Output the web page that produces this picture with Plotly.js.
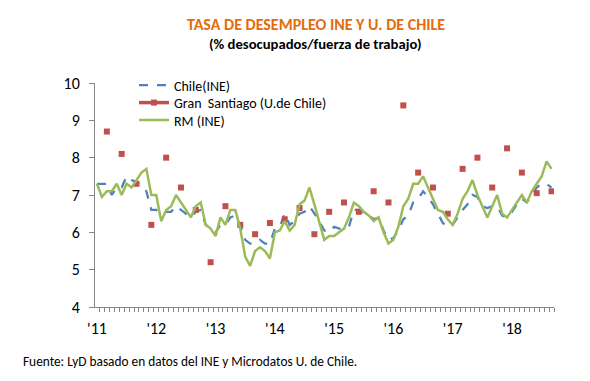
<!DOCTYPE html>
<html>
<head>
<meta charset="utf-8">
<script src="https://cdn.plot.ly/plotly-3.0.1.min.js"></script>
<style>html,body{margin:0;padding:0;background:#fff;}#chart{width:590px;height:381px;}</style>
</head>
<body>
<div id="chart"></div>
<script>
// Monthly index 0 = Jan 2011 ... 92 = Sep 2018
var yearTickIdx = [0, 12, 24, 36, 48, 60, 72, 84];
var yearTickText = ["'11", "'12", "'13", "'14", "'15", "'16", "'17", "'18"];

var chileINE = [7.3, 7.3, 7.3, 7.0, 7.2, 7.2, 7.5, 7.4, 7.35, 7.25, 7.1, 6.6,
  6.6, 6.5, 6.55, 6.55, 6.7, 6.6, 6.5, 6.4, 6.55, 6.6, 6.2, 6.1,
  6.0, 6.2, 6.2, 6.4, 6.45, 6.2, 5.8, 5.7, 5.7, 5.8, 5.7, 5.7,
  6.1, 6.15, 6.5, 6.2, 6.3, 6.5, 6.55, 6.7, 6.5, 6.3, 6.05, 6.0,
  6.15, 6.1, 6.1, 6.15, 6.6, 6.6, 6.5, 6.45, 6.35, 6.4, 6.05, 5.8,
  5.85, 6.05, 6.35, 6.45, 6.8, 6.9, 7.1, 6.95, 6.75, 6.5, 6.25, 6.15,
  6.2, 6.4, 6.6, 6.75, 7.0, 6.95, 6.7, 6.65, 6.7, 6.7, 6.45, 6.4,
  6.55, 6.75, 6.9, 6.8, 7.0, 7.2, 7.3, 7.3, 7.2];

var rmINE = [7.3, 6.95, 7.1, 7.1, 7.3, 7.0, 7.3, 7.2, 7.4, 7.6, 7.7, 7.0,
  7.0, 6.3, 6.6, 6.7, 7.0, 6.8, 6.6, 6.4, 6.7, 6.8, 6.2, 6.1,
  5.9, 6.4, 6.2, 6.6, 6.6, 6.1, 5.35, 5.1, 5.5, 5.6, 5.5, 5.3,
  6.0, 6.05, 6.3, 6.05, 6.2, 6.75, 6.85, 7.2, 6.75, 6.25, 5.8, 5.9,
  5.9, 6.0, 6.1, 6.4, 6.8, 6.7, 6.55, 6.45, 6.3, 6.4, 6.0, 5.7,
  5.8, 6.15, 6.7, 6.9, 7.3, 7.3, 7.5, 7.2, 6.9, 6.6, 6.55, 6.35,
  6.2, 6.5, 6.9, 7.1, 7.4, 7.0, 6.7, 6.4, 6.7, 7.0, 6.5, 6.4,
  6.6, 6.8, 7.0, 6.8, 7.1, 7.3, 7.5, 7.9, 7.7];

// Gran Santiago (U. de Chile), quarterly: Mar, Jun, Sep, Dec (index 2, 5, 8, ...)
var granSantiago = [8.7, 8.1, 7.3, 6.2, 8.0, 7.2, 6.6, 5.2, 6.7, 6.2, 5.95, 6.25,
  6.35, 6.65, 5.95, 6.55, 6.8, 6.55, 7.1, 6.8, 9.4, 7.6, 7.2, 6.5,
  7.7, 8.0, 7.2, 8.25, 7.6, 7.05, 7.1];

var months = chileINE.map(function (_, i) { return i; });
var gsMonthly = months.map(function () { return null; });
granSantiago.forEach(function (v, k) { gsMonthly[2 + 3 * k] = v; });

var cal = "Carlito, Calibri, 'Liberation Sans', Arial, sans-serif";

var traces = [
  {x: months, y: chileINE, name: 'Chile(INE)', type: 'scatter', mode: 'lines', legend: 'legend',
   line: {color: '#4F81BD', width: 2.25, dash: 'dash'}},
  {x: months, y: gsMonthly, name: 'Gran  Santiago (U.de Chile)', type: 'scatter', mode: 'lines+markers',
   legend: 'legend2', connectgaps: false,
   line: {color: '#C0504D', width: 3.5},
   marker: {symbol: 'square', size: 6, color: '#C0504D'}},
  {x: months, y: rmINE, name: 'RM (INE)', type: 'scatter', mode: 'lines', legend: 'legend3',
   line: {color: '#9BBB59', width: 2.5}}
];

function leg(y) {
  return {x: 0.085, y: y, xanchor: 'left', yanchor: 'middle',
    bgcolor: 'rgba(0,0,0,0)', borderwidth: 0,
    font: {family: cal, size: 14, color: '#000'}};
}

var layout = {
  width: 590, height: 381,
  margin: {l: 95, r: 36, t: 83, b: 74},
  paper_bgcolor: '#ffffff', plot_bgcolor: '#ffffff',
  font: {family: cal, color: '#000000', size: 14},
  showlegend: true,
  legend: leg(0.9888),
  legend2: leg(0.9107),
  legend3: leg(0.8326),
  xaxis: {
    range: [-0.4, 92.5],
    tickmode: 'array', tickvals: yearTickIdx, ticktext: yearTickText,
    ticks: '', showgrid: false, zeroline: false,
    showline: true, linecolor: '#868686', linewidth: 1,
    tickfont: {family: cal, size: 16, color: '#000'},
    ticklabelstandoff: 7,
    minor: {tickmode: 'linear', tick0: -0.5, dtick: 1, ticks: 'outside', ticklen: 4,
      tickcolor: '#868686', tickwidth: 1, showgrid: false}
  },
  yaxis: {
    range: [4, 10], tickmode: 'linear', tick0: 4, dtick: 1,
    ticks: 'outside', ticklen: 5, tickcolor: '#868686',
    showgrid: false, zeroline: false,
    showline: true, linecolor: '#868686', linewidth: 1,
    tickfont: {family: cal, size: 16, color: '#000'},
    ticklabelstandoff: 6
  },
  annotations: [
    {text: '<b>TASA DE DESEMPLEO INE Y U. DE CHILE</b>', xref: 'paper', yref: 'paper',
     x: 0.481, y: 1.263, xanchor: 'center', yanchor: 'middle', showarrow: false,
     font: {family: cal, size: 16, color: '#E46C0A'}},
    {text: '<b>(% desocupados/fuerza de trabajo)</b>', xref: 'paper', yref: 'paper',
     x: 0.480, y: 1.176, xanchor: 'center', yanchor: 'middle', showarrow: false,
     font: {family: cal, size: 14.67, color: '#000000'}},
    {text: 'Fuente: LyD basado en datos del INE y Microdatos U. de Chile.', xref: 'paper', yref: 'paper',
     x: -0.162, y: -0.2455, xanchor: 'left', yanchor: 'middle', showarrow: false,
     font: {family: cal, size: 13.33, color: '#000000'}}
  ]
};

Plotly.newPlot('chart', traces, layout, {displayModeBar: false, staticPlot: true});
</script>
</body>
</html>
